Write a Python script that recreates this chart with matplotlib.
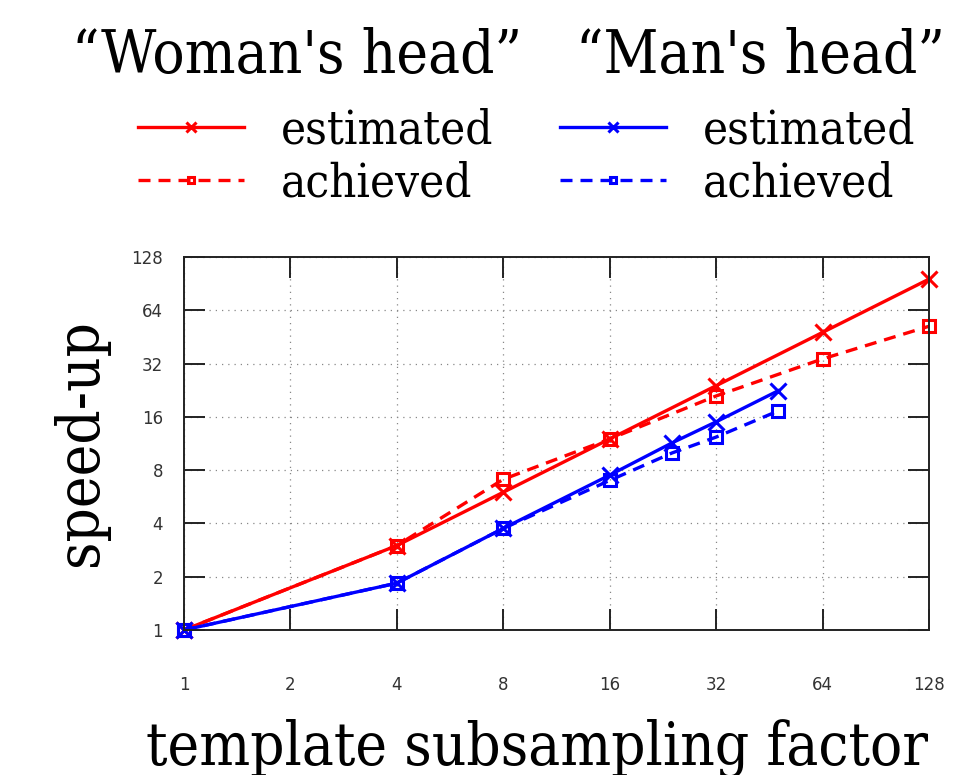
import matplotlib
matplotlib.use("Agg")
import matplotlib.pyplot as plt
from matplotlib import font_manager
from matplotlib.font_manager import FontProperties
from matplotlib.lines import Line2D
from matplotlib.ticker import FixedLocator, NullLocator

# -- values -----------------------------------------------------------------
WOMAN_X = [1, 4, 8, 16, 32, 64, 128]
WOMAN_EST = [1, 3, 6, 12, 24, 48, 96]
WOMAN_ACH = [1, 3, 7.1, 12, 21, 34, 52]

MAN_X = [1, 4, 8, 16, 24, 32, 48]
MAN_EST = [1, 1.84, 3.75, 7.5, 11.4, 15, 22.5]
MAN_ACH = [1, 1.84, 3.75, 7.0, 10, 12.3, 17.3]

TICKS = [1, 2, 4, 8, 16, 32, 64, 128]
TICK_LABELS = ["1", "2", "4", "8", "16", "32", "64", "128"]

W, H = 967, 775


def serif(size):
    # prefer the condensed DejaVu serif (gnuplot look), else plain DejaVu Serif
    paths = [f.fname for f in font_manager.fontManager.ttflist]
    paths += font_manager.findSystemFonts()
    for p in paths:
        if p.endswith("DejaVuSerifCondensed.ttf"):
            return FontProperties(fname=p, size=size)
    return FontProperties(family="DejaVu Serif", size=size * 0.9)


fig = plt.figure(figsize=(W / 100, H / 100), dpi=100)
ax = fig.add_axes([184 / W, 1 - 630 / H, (929 - 184) / W, (630 - 257) / H])
ax.set_xscale("log", base=2)
ax.set_yscale("log", base=2)
ax.set_xlim(1, 128)
ax.set_ylim(1, 128)

kw_est = dict(lw=2.4, marker="x", ms=11, mew=2.2, clip_on=False)
kw_ach = dict(lw=2.4, ls=(0, (3.6, 2.4)), marker="s", ms=8, mew=2.2,
              mfc="none", clip_on=False)

ax.plot(WOMAN_X, WOMAN_EST, color="#ff0000", **kw_est)
ax.plot(WOMAN_X, WOMAN_ACH, color="#ff0000", **kw_ach)
ax.plot(MAN_X, MAN_EST, color="#0000ff", **kw_est)
ax.plot(MAN_X, MAN_ACH, color="#0000ff", **kw_ach)

for axis in (ax.xaxis, ax.yaxis):
    axis.set_major_locator(FixedLocator(TICKS))
    axis.set_minor_locator(NullLocator())
ax.set_xticklabels(TICK_LABELS)
ax.set_yticklabels(TICK_LABELS)
ax.tick_params(which="major", direction="in", length=15, width=1.4,
               color="#222222", top=True, right=True, labelsize=12,
               labelcolor="#333333")
ax.tick_params(axis="x", pad=33)
ax.tick_params(axis="y", pad=15)
ax.grid(True, ls=(0, (1, 4)), color="#888888", lw=0.9)
for s in ax.spines.values():
    s.set_color("#222222")
    s.set_linewidth(1.4)

# axis labels
fig.text(537 / W, 1 - 749 / H, "template subsampling factor",
         fontproperties=serif(43), ha="center", va="center")
fig.text(80 / W, 1 - 443 / H, "speed-up", rotation=90,
         fontproperties=serif(43), ha="center", va="center")

# legend: column headers + two columns
fig.text(297 / W, 1 - 73 / H, "\u201cWoman's head\u201d",
         fontproperties=serif(43), ha="center", va="baseline")
fig.text(760 / W, 1 - 73 / H, "\u201cMan's head\u201d",
         fontproperties=serif(43), ha="center", va="baseline")

handles = [
    Line2D([], [], color="#ff0000", **kw_est),
    Line2D([], [], color="#ff0000", **kw_ach),
    Line2D([], [], color="#0000ff", **kw_est),
    Line2D([], [], color="#0000ff", **kw_ach),
]
labels = ["estimated", "achieved", "estimated", "achieved"]
fig.legend(handles, labels, ncol=2, loc="upper left",
           bbox_to_anchor=(138 / W, 1 - 108 / H), frameon=False,
           prop=serif(34), handlelength=2.25, handletextpad=0.78,
           columnspacing=1.4, labelspacing=0.16, markerscale=0.6,
           borderaxespad=0, borderpad=0)

fig.savefig("out.png", dpi=100)
